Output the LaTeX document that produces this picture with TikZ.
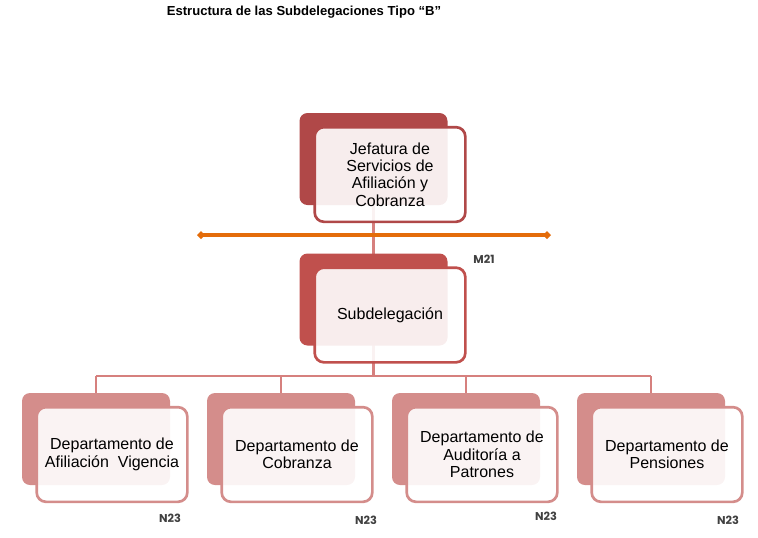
\documentclass[tikz,border=0pt]{standalone}
\usepackage{fontspec}
\setmainfont{Liberation Sans}
\newfontfamily\levelfont{Poppins}
\usetikzlibrary{arrows.meta,backgrounds}

\definecolor{jefcol}{RGB}{176,72,72}
\definecolor{subcol}{RGB}{192,80,77}
\definecolor{depcol}{RGB}{212,141,139}
\definecolor{linecol}{RGB}{214,128,126}
\definecolor{fencecol}{RGB}{228,108,10}
\definecolor{lvlcol}{RGB}{64,64,64}

\begin{document}
\begin{tikzpicture}[x=0.75pt,y=-0.75pt,
    backbox/.style={rounded corners=6pt,minimum width=111pt,minimum height=69pt,inner sep=0pt},
    frontbox/.style={rounded corners=7pt,line width=2pt,fill=white,fill opacity=0.9,text opacity=1,
      minimum width=113pt,minimum height=71pt,inner sep=2pt,align=center,font=\fontsize{12}{13}\selectfont},
    conn/.style={line width=2.2pt,draw=linecol},
    lvl/.style={font=\levelfont\bfseries\fontsize{8.5}{10}\selectfont,text=lvlcol,inner sep=0pt}]

    \useasboundingbox (0,0) rectangle (758,537);

    %title
    \node[font=\bfseries\fontsize{9.8}{11}\selectfont] (title) at (304,12) {Estructura de las Subdelegaciones Tipo “B”};

    %boxes
    \node[backbox,fill=jefcol] (jefB) at (373.5,159) {};
    \node[frontbox,draw=jefcol] (jef) at (390,174.5) {Jefatura de\\Servicios de\\Afiliación y\\Cobranza};

    \node[backbox,fill=subcol] (subB) at (373.5,299.5) {};
    \node[frontbox,draw=subcol] (sub) at (390,315) {Subdelegación};

    \node[backbox,fill=depcol] (dep1B) at (96,439) {};
    \node[frontbox,draw=depcol] (dep1) at (112,454.5) {Departamento de\\Afiliación~~Vigencia};
    \node[backbox,fill=depcol] (dep2B) at (281,439) {};
    \node[frontbox,draw=depcol] (dep2) at (297,454.5) {Departamento de\\Cobranza};
    \node[backbox,fill=depcol] (dep3B) at (466,439) {};
    \node[frontbox,draw=depcol] (dep3) at (482,454.5) {Departamento de\\Auditoría a\\Patrones};
    \node[backbox,fill=depcol] (dep4B) at (651,439) {};
    \node[frontbox,draw=depcol] (dep4) at (667,454.5) {Departamento de\\Pensiones};

    %lines
    \coordinate (bus) at (373.5,376);
    \begin{scope}[on background layer]
        \draw[conn] (jefB.center) -- (subB.center);
        \draw[conn] (subB.center) -- (bus);
        \draw[conn] (dep1B.center |- bus) -- (dep4B.center |- bus);
        \foreach \n in {1,...,4}
            \draw[conn] (dep\n B.center |- bus) -- (dep\n B.center);
    \end{scope}

    %fence
    \coordinate (fenceL) at (197,235);
    \coordinate (fenceR) at (551,235);
    \draw[line width=3pt,draw=fencecol,{Diamond[length=6pt,width=6pt]}-{Diamond[length=6pt,width=6pt]}] (fenceL) -- (fenceR);

    %levels
    \node[lvl] (m21) at (484,259) {M21};
    \node[lvl] (n1) at (170,518) {N23};
    \node[lvl] (n2) at (366,520) {N23};
    \node[lvl] (n3) at (546,516) {N23};
    \node[lvl] (n4) at (728,520) {N23};
\end{tikzpicture}
\end{document}
